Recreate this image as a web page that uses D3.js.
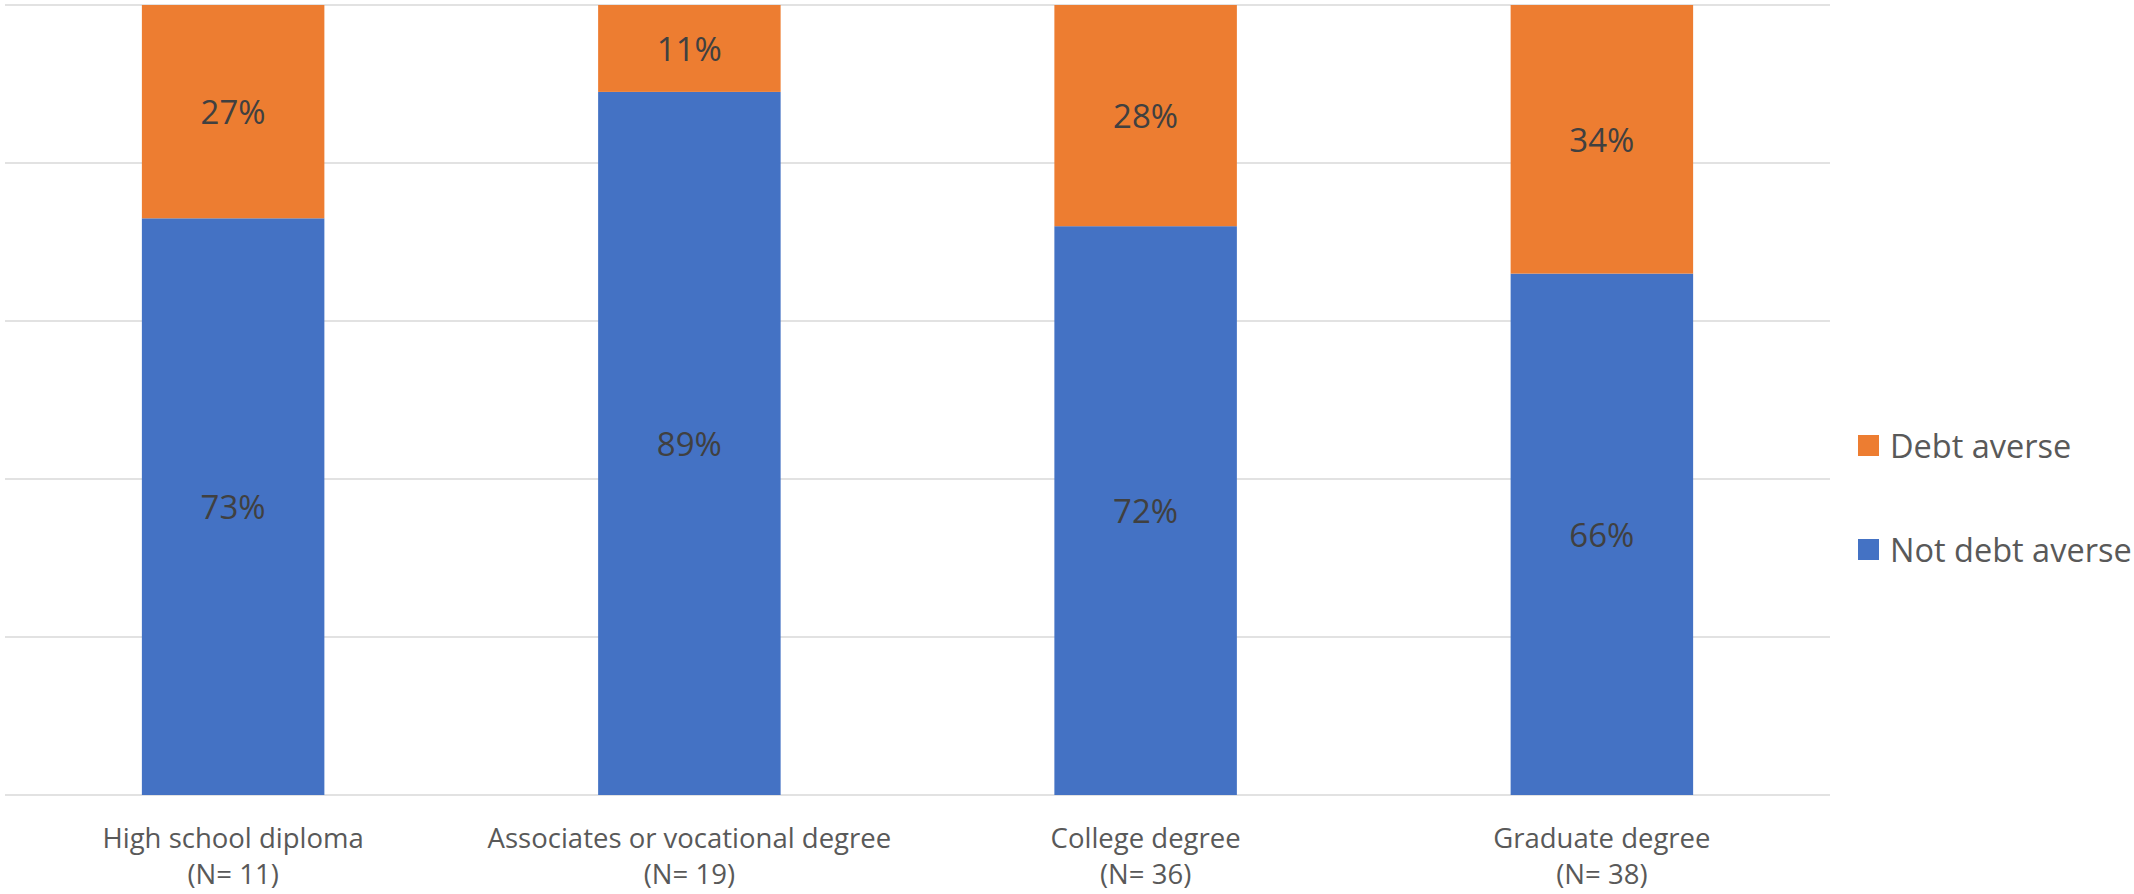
<!DOCTYPE html>
<html>
<head>
<meta charset="utf-8">
<script src="https://cdn.jsdelivr.net/npm/d3@7"></script>
<style>
  html, body { margin: 0; padding: 0; background: #fff; }
  svg { display: block; }
  text { font-family: "Open Sans", "Noto Sans", sans-serif; }
</style>
</head>
<body>
<svg id="chart" width="2134" height="894"></svg>
<script>
// Education level groups and their sample sizes
const categories = ["High school diploma", "Associates or vocational degree", "College degree", "Graduate degree"];
const sampleSizes = ["(N= 11)", "(N= 19)", "(N= 36)", "(N= 38)"];
// Share of respondents (%) in each group
const notDebtAverse = [73, 89, 72, 66];
const debtAverse = [27, 11, 28, 34];
const yTicks = [0, 20, 40, 60, 80, 100];

const seriesNames = ["Not debt averse", "Debt averse"];
const colors = { "Not debt averse": "#4472C4", "Debt averse": "#ED7D31" };

const rows = categories.map((c, i) => ({
  category: c,
  "Not debt averse": notDebtAverse[i],
  "Debt averse": debtAverse[i]
}));

const svg = d3.select("#chart");
const plot = { left: 5, right: 1830, top: 5, bottom: 795 };

const x = d3.scaleBand()
  .domain(categories)
  .range([plot.left, plot.right])
  .paddingInner(0.6)
  .paddingOuter(0.3);

const y = d3.scaleLinear()
  .domain([0, 100])
  .range([plot.bottom, plot.top]);

// Horizontal gridlines
svg.append("g")
  .selectAll("line")
  .data(yTicks)
  .join("line")
  .attr("x1", plot.left)
  .attr("x2", plot.right)
  .attr("y1", d => y(d))
  .attr("y2", d => y(d))
  .attr("stroke", "#D9D9D9")
  .attr("stroke-width", 1.5);

// Stacked bars
const stacked = d3.stack().keys(seriesNames)(rows);

const layers = svg.append("g")
  .selectAll("g")
  .data(stacked)
  .join("g")
  .attr("fill", d => colors[d.key]);

layers.selectAll("rect")
  .data(d => d)
  .join("rect")
  .attr("x", d => x(d.data.category))
  .attr("width", x.bandwidth())
  .attr("y", d => y(d[1]))
  .attr("height", d => y(d[0]) - y(d[1]));

// Value labels centred in each segment
layers.selectAll("text")
  .data(d => d.map(v => ({ v, key: d.key })))
  .join("text")
  .attr("x", d => x(d.v.data.category) + x.bandwidth() / 2)
  .attr("y", d => (y(d.v[0]) + y(d.v[1])) / 2)
  .attr("text-anchor", "middle")
  .attr("dominant-baseline", "central")
  .attr("fill", "#404040")
  .attr("font-size", 33)
  .text(d => d.v.data[d.key] + "%");

// Category axis labels
const xAxis = d3.axisBottom(x).tickSize(0).tickFormat("");
svg.append("g")
  .attr("transform", `translate(0,${plot.bottom})`)
  .call(xAxis)
  .call(g => g.select(".domain").remove());

const catLabels = svg.append("g")
  .selectAll("text")
  .data(categories)
  .join("text")
  .attr("x", d => x(d) + x.bandwidth() / 2)
  .attr("text-anchor", "middle")
  .attr("fill", "#595959")
  .attr("font-size", 27.5);

catLabels.append("tspan")
  .attr("x", d => x(d) + x.bandwidth() / 2)
  .attr("y", 848)
  .text(d => d);

catLabels.append("tspan")
  .attr("x", d => x(d) + x.bandwidth() / 2)
  .attr("y", 884)
  .text((d, i) => sampleSizes[i]);

// Legend (debt averse listed first)
const legendItems = ["Debt averse", "Not debt averse"];
const legend = svg.append("g")
  .selectAll("g")
  .data(legendItems)
  .join("g")
  .attr("transform", (d, i) => `translate(1858,${435 + i * 104})`);

legend.append("rect")
  .attr("width", 21)
  .attr("height", 21)
  .attr("fill", d => colors[d]);

legend.append("text")
  .attr("x", 32)
  .attr("y", 10.5)
  .attr("dominant-baseline", "central")
  .attr("fill", "#595959")
  .attr("font-size", 32.5)
  .text(d => d);
</script>
</body>
</html>
